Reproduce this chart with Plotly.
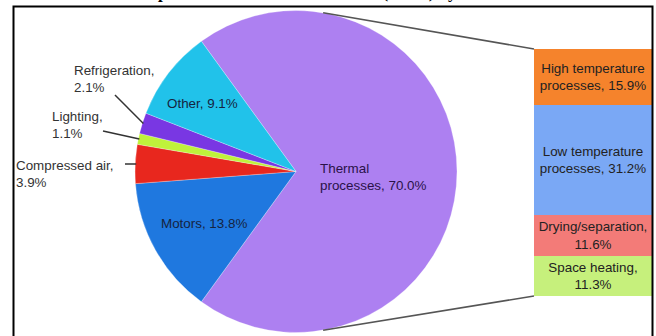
import math
import plotly.graph_objects as go

# ---------------- data ----------------
pie_labels = ["Thermal processes", "Motors", "Compressed air", "Lighting", "Refrigeration", "Other"]
pie_values = [70.0, 13.8, 3.9, 1.1, 2.1, 9.1]
pie_colors = ["#ad80f1", "#1f78df", "#e8271e", "#bff23b", "#7937e3", "#21c2ea"]

bar_labels = ["Space heating", "Drying/separation", "Low temperature processes", "High temperature processes"]
bar_values = [11.3, 11.6, 31.2, 15.9]
bar_colors = ["#c6f07c", "#f37b78", "#7aa8f5", "#f5832c"]
bar_text = ["Space heating,<br>11.3%", "Drying/separation,<br>11.6%",
            "Low temperature<br>processes, 31.2%", "High temperature<br>processes, 15.9%"]

title_text = "Industrial final consumption of the EU member states (EU28) by end use"

# ---------------- geometry ----------------
W, H = 656, 336
CX, CY, R = 296, 171.5, 161
ROT = -36  # degrees, start of first slice measured clockwise from 12 o'clock
FONT = "Liberation Sans, Arial, sans-serif"
FS = 13.4

def px(x):
    return x / W

def py(y):
    return 1 - y / H

fig = go.Figure()

fig.add_trace(go.Pie(
    labels=pie_labels, values=pie_values, sort=False, direction="clockwise",
    rotation=ROT, textinfo="none", hoverinfo="skip",
    marker=dict(colors=pie_colors, line=dict(color="rgba(255,255,255,0.45)", width=0.6)),
    domain=dict(x=[px(CX - R), px(CX + R)], y=[py(CY + R), py(CY - R)]),
    showlegend=False,
))

for lab, val, col, txt in zip(bar_labels, bar_values, bar_colors, bar_text):
    fig.add_trace(go.Bar(
        x=[0], y=[val], width=1, marker=dict(color=col, line=dict(width=0)),
        text=[txt], textposition="inside", insidetextanchor="middle",
        constraintext="none", textangle=0,
        textfont=dict(family=FONT, size=FS, color="#222222"),
        xaxis="x2", yaxis="y2", showlegend=False, hoverinfo="skip", name=lab,
    ))

# slice angles
total = sum(pie_values)
mid = {}
cum = 0
for lab, v in zip(pie_labels, pie_values):
    a0 = ROT + cum / total * 360
    cum += v
    a1 = ROT + cum / total * 360
    mid[lab] = (a0 + a1) / 2

def edge(angle_deg, r=R):
    a = math.radians(angle_deg)
    return CX + r * math.sin(a), CY - r * math.cos(a)

shapes = []
annotations = []

# outside labels with leader lines
outside = {
    "Refrigeration": dict(text_xy=(73, 62), line_start=(115, 95)),
    "Lighting": dict(text_xy=(51, 108), line_start=(103, 131)),
    "Compressed air": dict(text_xy=(15, 157), line_start=(125, 164)),
}
for lab, cfg in outside.items():
    v = pie_values[pie_labels.index(lab)]
    tx, ty = cfg["text_xy"]
    annotations.append(dict(
        x=px(tx), y=py(ty), xref="paper", yref="paper", xanchor="left", yanchor="top",
        text=f"{lab},<br>{v:.1f}%", showarrow=False, align="left",
        font=dict(family=FONT, size=FS, color="#333333"), borderpad=0,
    ))
    ex, ey = edge(mid[lab], R - 1)
    sx, sy = cfg["line_start"]
    shapes.append(dict(type="line", xref="paper", yref="paper",
                       x0=px(sx), y0=py(sy), x1=px(ex), y1=py(ey),
                       line=dict(color="#333333", width=1.5)))

# inside labels
inside = {
    "Other": dict(xy=(202, 103), color="#15243f"),
    "Motors": dict(xy=(204, 223), color="#15243f"),
}
for lab, cfg in inside.items():
    v = pie_values[pie_labels.index(lab)]
    annotations.append(dict(
        x=px(cfg["xy"][0]), y=py(cfg["xy"][1]), xref="paper", yref="paper",
        xanchor="center", yanchor="middle", text=f"{lab}, {v:.1f}%", showarrow=False,
        font=dict(family=FONT, size=FS, color=cfg["color"]),
    ))
th = pie_values[0]
annotations.append(dict(
    x=px(318), y=py(177), xref="paper", yref="paper", xanchor="left", yanchor="middle",
    text=f"Thermal<br>processes, {th:.1f}%", showarrow=False, align="left",
    font=dict(family=FONT, size=FS, color="#2a1248"),
))

# connector lines from pie to bar
tx_, ty_ = edge(9.7)
bx_, by_ = edge(170.3)
shapes.append(dict(type="line", xref="paper", yref="paper",
                   x0=px(tx_), y0=py(ty_), x1=px(534), y1=py(49),
                   line=dict(color="#555555", width=1.6)))
shapes.append(dict(type="line", xref="paper", yref="paper",
                   x0=px(bx_), y0=py(by_), x1=px(534), y1=py(296),
                   line=dict(color="#555555", width=1.6)))

# frame
shapes.append(dict(type="rect", xref="paper", yref="paper",
                   x0=px(13.5), x1=px(652.5), y0=-0.05, y1=py(6.5),
                   line=dict(color="black", width=2), fillcolor="rgba(0,0,0,0)", layer="above"))

# cropped title (only descenders visible, as in the reference)
annotations.append(dict(
    x=px(252), y=1, xref="paper", yref="paper", xanchor="center", yanchor="bottom",
    yshift=-4, text=f"<b>{title_text}</b>", showarrow=False,
    font=dict(family="Liberation Serif, Times New Roman, serif", size=17, color="black"),
))

fig.update_layout(
    width=W, height=H, margin=dict(l=0, r=0, t=0, b=0),
    paper_bgcolor="white", plot_bgcolor="white",
    barmode="stack", bargap=0,
    xaxis2=dict(domain=[px(534), px(652)], range=[-0.5, 0.5], visible=False, anchor="y2", fixedrange=True),
    yaxis2=dict(domain=[py(296), py(49)], range=[0, sum(bar_values)], visible=False, anchor="x2", fixedrange=True),
    xaxis=dict(visible=False), yaxis=dict(visible=False),
    shapes=shapes, annotations=annotations,
    font=dict(family=FONT),
)

fig.write_html("out.html")
